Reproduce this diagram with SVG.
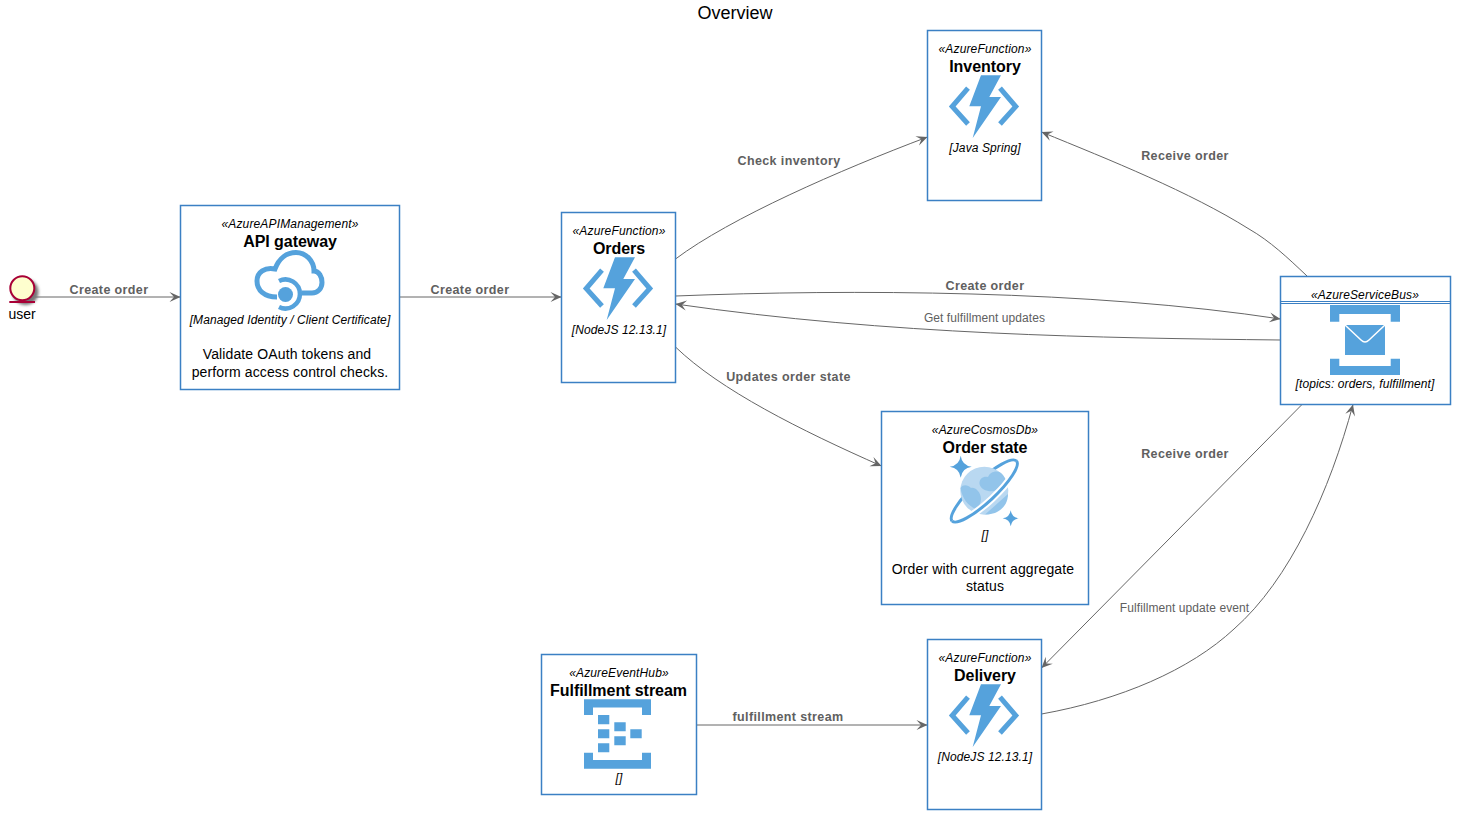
<svg xmlns="http://www.w3.org/2000/svg" width="1460" height="819" viewBox="0 0 1460 819">
<style>
text{font-family:"Liberation Sans",Arial,sans-serif;fill:#000;text-anchor:middle}
.box{fill:#fff;stroke:#3b80c4;stroke-width:1.5}
.st{font-size:12px;font-style:italic;letter-spacing:.15px}
.ti{font-size:16px;font-weight:bold;letter-spacing:-.05px}
.de{font-size:14px;letter-spacing:.12px}
.tg{font-size:12px;font-style:italic;letter-spacing:.1px}
.lb{font-size:12.5px;font-weight:bold;fill:#606060;letter-spacing:.38px}
.ls{font-size:12px;fill:#606060;letter-spacing:.08px}
.ic{fill:#55a2dc}
.cn{fill:none;stroke:#666;stroke-width:1;marker-end:url(#ah)}
</style>
<defs>
<marker id="ah" markerUnits="userSpaceOnUse" markerWidth="13" markerHeight="12" refX="12" refY="6" orient="auto"><path d="M12,6 L1,1 L5.500,6 L1,11 Z" fill="#666"/></marker>
<filter id="sh" x="-40%" y="-40%" width="180%" height="180%"><feGaussianBlur stdDeviation="1.8"/></filter>
<g id="fn">
<path class="ic" d="M32,.3H52L40.3,22H52L23.7,63L32,31.3H20.3Z"/>
<path d="M19,13.2L3.2,31.5L19,49M51,13.2L66.800,31.5L51,49" fill="none" stroke="#55a2dc" stroke-width="5"/>
</g>
</defs>
<rect width="1460" height="819" fill="#fff"/>
<text x="735" y="19" font-size="18">Overview</text>
<g id="connectors">
<path class="cn" d="M35,297H180.500"/>
<path class="cn" d="M399.500,297H561.500"/>
<path class="cn" d="M675.500,259C730,218 840,170 927.500,137"/>
<path class="cn" d="M1307,276C1288,258 1270,241 1249,229C1190,192 1110,160 1041.500,132"/>
<path class="cn" d="M675.500,296C850,289 1090,290 1280.500,319"/>
<path class="cn" d="M1280.500,340C1100,338 890,335 675.500,304"/>
<path class="cn" d="M675.500,347C720,390 800,430 881.500,466"/>
<path class="cn" d="M1302,404.500L1041.500,668"/>
<path class="cn" d="M1041.500,714C1120,700 1190,670 1234,629C1290,580 1330,490 1353,404.500"/>
<path class="cn" d="M696.500,725H927.500"/>
<text class="lb" x="109" y="294">Create order</text>
<text class="lb" x="470" y="294">Create order</text>
<text class="lb" x="789" y="165">Check inventory</text>
<text class="lb" x="1185" y="160">Receive order</text>
<text class="lb" x="985" y="290">Create order</text>
<text class="ls" x="984.500" y="322">Get fulfillment updates</text>
<text class="lb" x="788.500" y="381">Updates order state</text>
<text class="lb" x="1185" y="458">Receive order</text>
<text class="ls" x="1184.500" y="612">Fulfillment update event</text>
<text class="lb" x="788" y="721">fulfillment stream</text>
</g>
<g id="user">
<circle cx="25.500" cy="292" r="13" fill="#777" filter="url(#sh)"/>
<circle cx="22.300" cy="288.300" r="12" fill="#fefece" stroke="#a80036" stroke-width="2"/>
<path d="M9.300,302H35" stroke="#a80036" stroke-width="2"/>
<text x="22" y="319" font-size="14">user</text>
</g>
<g id="api">
<rect class="box" x="180.500" y="205.500" width="219" height="184"/>
<text class="st" x="290" y="228">«AzureAPIManagement»</text>
<text class="ti" x="290" y="247">API gateway</text>
<path d="M277,297C264,297 257,290 257,281C257,272 265,267 275,269C279,258 287,252.500 296,252.500C306,252.500 314,261 314,271C319,271 322,277 322,282.500C322,288 318,293 312,293H302" fill="none" stroke="#55a2dc" stroke-width="5"/>
<path d="M279,281A14.500,14.500 0 1 1 279,307" fill="none" stroke="#55a2dc" stroke-width="4.500"/>
<circle class="ic" cx="285.500" cy="294.500" r="7.500"/>
<text class="tg" x="290" y="324">[Managed Identity / Client Certificate]</text>
<text class="de" x="287" y="359">Validate OAuth tokens and</text>
<text class="de" x="290" y="377">perform access control checks.</text>
</g>
<g id="orders">
<rect class="box" x="561.500" y="212.500" width="114" height="170"/>
<text class="st" x="619" y="235">«AzureFunction»</text>
<text class="ti" x="619" y="254">Orders</text>
<use href="#fn" x="583" y="257"/>
<text class="tg" x="619" y="334">[NodeJS 12.13.1]</text>
</g>
<g id="inventory">
<rect class="box" x="927.500" y="30.500" width="114" height="170"/>
<text class="st" x="985" y="53">«AzureFunction»</text>
<text class="ti" x="985" y="72">Inventory</text>
<use href="#fn" x="949" y="75"/>
<text class="tg" x="985" y="152">[Java Spring]</text>
</g>
<g id="delivery">
<rect class="box" x="927.500" y="639.500" width="114" height="170"/>
<text class="st" x="985" y="662">«AzureFunction»</text>
<text class="ti" x="985" y="681">Delivery</text>
<use href="#fn" x="949" y="684"/>
<text class="tg" x="985" y="761">[NodeJS 12.13.1]</text>
</g>
<g id="cosmos">
<rect class="box" x="881.500" y="411.500" width="207" height="193"/>
<text class="st" x="985" y="434">«AzureCosmosDb»</text>
<text class="ti" x="985" y="453">Order state</text>
<ellipse cx="984.300" cy="491" rx="44" ry="11" transform="rotate(-43 984.300 491)" fill="none" stroke="#55a2dc" stroke-width="3"/>
<circle cx="984.300" cy="490.700" r="24" fill="#b9d8f1"/>
<path d="M979.500,484C979,478 984,476 988,477C990,471 999,469 1003,475C1005,478 1007,481 1007.500,484C1004,487 998,488 994,491C988,492 981,490 979.500,484Z" fill="#92c4ea"/>
<path d="M960.500,488C963,484 968,485 971,488C975,487 981,492 981,499C981,503 979,506 976,509C968,506 962,498 960.500,488Z" fill="#92c4ea"/>
<path d="M985,514.500L1008,494C1008,508 996,515 985,514.500Z" fill="#92c4ea"/>
<path d="M952.100,521A44,11 -43 0 0 1016.500,461" fill="none" stroke="#fff" stroke-width="7"/>
<path d="M952.100,521A44,11 -43 0 0 1016.500,461" fill="none" stroke="#55a2dc" stroke-width="3"/>
<path class="ic" d="M960.700,455.700Q962,465.400 971.700,466.700Q962,468 960.700,477.700Q959.400,468 949.700,466.700Q959.400,465.400 960.700,455.700Z"/>
<path class="ic" d="M1010.700,510.300Q1011.700,517.300 1018.700,518.300Q1011.700,519.300 1010.700,526.300Q1009.700,519.300 1002.700,518.300Q1009.700,517.300 1010.700,510.300Z"/>
<text class="tg" x="985" y="539">[]</text>
<text class="de" x="983" y="574">Order with current aggregate</text>
<text class="de" x="985" y="591">status</text>
</g>
<g id="eventhub">
<rect class="box" x="541.500" y="654.500" width="155" height="140"/>
<text class="st" x="619" y="677">«AzureEventHub»</text>
<text class="ti" x="618.500" y="696">Fulfillment stream</text>
<path class="ic" d="M584,699.300H651V715H642V707.500H593V715H584Z"/>
<path class="ic" d="M584,752.700H593V760H642V752.700H651V768.700H584Z"/>
<path class="ic" d="M598,715h11.300v9.300H598ZM598,729.300h11.300v9H598ZM598,743.300h11.300v9H598ZM614.300,722.300h11.400v9H614.300ZM614.300,736.300h11.400v9H614.300ZM630.300,729.300h11.400v9H630.300Z"/>
<text class="tg" x="619" y="782">[]</text>
</g>
<g id="servicebus">
<rect class="box" x="1280.500" y="276.500" width="170" height="128"/>
<path d="M1281,301.500H1450M1281,303.500H1450" stroke="#3b80c4" stroke-width="1"/>
<text class="st" x="1365" y="299">«AzureServiceBus»</text>
<path class="ic" d="M1330,305H1400V321.700H1390.700V314H1339.300V321.700H1330Z"/>
<path class="ic" d="M1330,358.700H1339.300V366H1390.700V358.700H1400V375H1330Z"/>
<path class="ic" d="M1345,325H1385V355H1345Z"/>
<path d="M1345,325L1361,340Q1365,344 1369,340L1385,325" fill="none" stroke="#fff" stroke-width="1.500"/>
<text class="tg" x="1365" y="388">[topics: orders, fulfillment]</text>
</g>
</svg>
